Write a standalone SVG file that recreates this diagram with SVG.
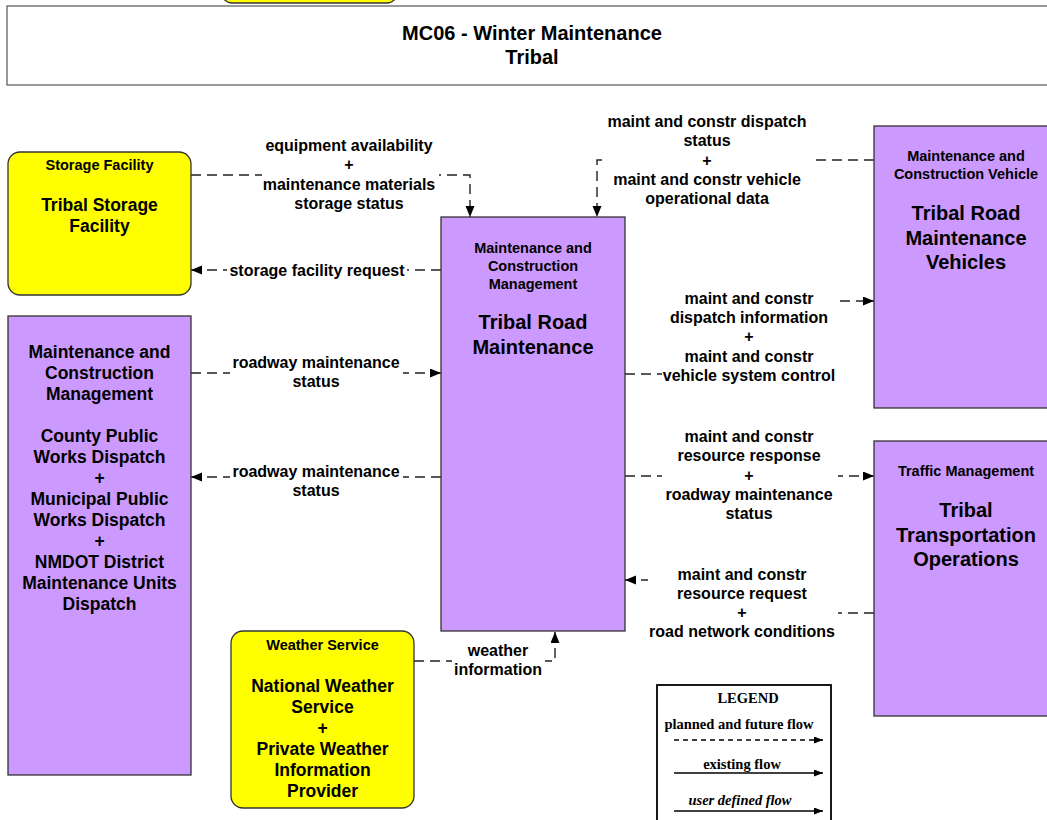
<svg xmlns="http://www.w3.org/2000/svg" width="1047" height="820" viewBox="0 0 1047 820">
<style>
text{font-family:"Liberation Sans",Arial,sans-serif;font-weight:bold;fill:#000;text-anchor:middle}
.hdr{font-size:14.5px}
.big{font-size:20px}
.mid{font-size:17.5px}
.lbl{font-size:16px}
.purple{fill:#CC99FF;stroke:#333;stroke-width:1.3}
.yellow{fill:#FFFF00;stroke:#333;stroke-width:1.3}
.flow{fill:none;stroke:#222;stroke-width:1.4;stroke-dasharray:10,6}
.mask{fill:#fff;stroke:none}
.leg{font-family:"Liberation Serif","Times New Roman",serif;font-size:14.5px}
</style>
<defs>
<marker id="arr" markerUnits="userSpaceOnUse" markerWidth="12" markerHeight="10" refX="11" refY="4.5" orient="auto">
<path d="M0,0 L11,4.5 L0,9 z" fill="#000"/>
</marker>
<marker id="arrs" markerUnits="userSpaceOnUse" markerWidth="10" markerHeight="8" refX="9" refY="3.5" orient="auto">
<path d="M0,0 L9,3.5 L0,7 z" fill="#000"/>
</marker>
</defs>
<rect width="1047" height="820" fill="#fff"/>

<g id="partial-top">
<rect class="yellow" x="222" y="-30" width="175" height="33" rx="10"/>
</g>

<g id="title">
<rect x="7" y="6" width="1050" height="79" fill="#fff" stroke="#555" stroke-width="1.2"/>
<text x="532" y="40" style="font-size:20px">MC06 - Winter Maintenance</text>
<text x="532" y="64" style="font-size:20px">Tribal</text>
</g>

<g id="connectors">
<path class="flow" d="M191,175 H470 V217" marker-end="url(#arr)"/>
<path class="flow" d="M441,270 H191" marker-end="url(#arr)"/>
<path class="flow" d="M874,160 H597 V217" marker-end="url(#arr)"/>
<path class="flow" d="M191,373 H441" marker-end="url(#arr)"/>
<path class="flow" d="M441,477 H191" marker-end="url(#arr)"/>
<path class="flow" d="M625,374 H750 V301 H874" marker-end="url(#arr)"/>
<path class="flow" d="M625,476 H874" marker-end="url(#arr)"/>
<path class="flow" d="M874,613 H742 V580 H625" marker-end="url(#arr)"/>
<path class="flow" d="M414,661 H555 V632" marker-end="url(#arr)"/>
</g>

<g id="labels">
<g id="lbl-equipment">
<rect class="mask" x="262" y="136" width="177" height="76"/>
<text class="lbl" x="349" y="151">equipment availability</text>
<text class="lbl" x="349" y="170">+</text>
<text class="lbl" x="349" y="190">maintenance materials</text>
<text class="lbl" x="349" y="209">storage status</text>
</g>
<g id="lbl-storage-request">
<rect class="mask" x="227" y="260" width="180" height="22"/>
<text class="lbl" x="317" y="276">storage facility request</text>
</g>
<g id="lbl-dispatch-status">
<rect class="mask" x="605" y="110" width="205" height="98"/>
<text class="lbl" x="707" y="127">maint and constr dispatch</text>
<text class="lbl" x="707" y="146">status</text>
<text class="lbl" x="707" y="166">+</text>
<text class="lbl" x="707" y="185">maint and constr vehicle</text>
<text class="lbl" x="707" y="204">operational data</text>
</g>
<g id="lbl-roadway-1">
<rect class="mask" x="230" y="352" width="173" height="40"/>
<text class="lbl" x="316" y="368">roadway maintenance</text>
<text class="lbl" x="316" y="387">status</text>
</g>
<g id="lbl-roadway-2">
<rect class="mask" x="230" y="461" width="173" height="40"/>
<text class="lbl" x="316" y="477">roadway maintenance</text>
<text class="lbl" x="316" y="496">status</text>
</g>
<g id="lbl-dispatch-info">
<rect class="mask" x="662" y="288" width="176" height="100"/>
<text class="lbl" x="749" y="304">maint and constr</text>
<text class="lbl" x="749" y="323">dispatch information</text>
<text class="lbl" x="749" y="342">+</text>
<text class="lbl" x="749" y="362">maint and constr</text>
<text class="lbl" x="749" y="381">vehicle system control</text>
</g>
<g id="lbl-resource-response">
<rect class="mask" x="662" y="426" width="176" height="98"/>
<text class="lbl" x="749" y="442">maint and constr</text>
<text class="lbl" x="749" y="461">resource response</text>
<text class="lbl" x="749" y="481">+</text>
<text class="lbl" x="749" y="500">roadway maintenance</text>
<text class="lbl" x="749" y="519">status</text>
</g>
<g id="lbl-resource-request">
<rect class="mask" x="648" y="564" width="190" height="78"/>
<text class="lbl" x="742" y="580">maint and constr</text>
<text class="lbl" x="742" y="599">resource request</text>
<text class="lbl" x="742" y="618">+</text>
<text class="lbl" x="742" y="637">road network conditions</text>
</g>
<g id="lbl-weather">
<rect class="mask" x="452" y="640" width="93" height="40"/>
<text class="lbl" x="498" y="656">weather</text>
<text class="lbl" x="498" y="675">information</text>
</g>
</g>

<g id="node-storage">
<rect class="yellow" x="8" y="152" width="183" height="143" rx="12"/>
<text class="hdr" x="99.5" y="170">Storage Facility</text>
<text class="mid" x="99.5" y="211">Tribal Storage</text>
<text class="mid" x="99.5" y="232">Facility</text>
</g>

<g id="node-left">
<rect class="purple" x="8" y="316" width="183" height="459"/>
<text class="mid" x="99.5" y="358">Maintenance and</text>
<text class="mid" x="99.5" y="379">Construction</text>
<text class="mid" x="99.5" y="400">Management</text>
<text class="mid" x="99.5" y="442">County Public</text>
<text class="mid" x="99.5" y="463">Works Dispatch</text>
<text class="mid" x="99.5" y="484">+</text>
<text class="mid" x="99.5" y="505">Municipal Public</text>
<text class="mid" x="99.5" y="526">Works Dispatch</text>
<text class="mid" x="99.5" y="547">+</text>
<text class="mid" x="99.5" y="568">NMDOT District</text>
<text class="mid" x="99.5" y="589">Maintenance Units</text>
<text class="mid" x="99.5" y="610">Dispatch</text>
</g>

<g id="node-center">
<rect class="purple" x="441" y="217" width="184" height="414"/>
<text class="hdr" x="533" y="253">Maintenance and</text>
<text class="hdr" x="533" y="271">Construction</text>
<text class="hdr" x="533" y="289">Management</text>
<text class="big" x="533" y="329">Tribal Road</text>
<text class="big" x="533" y="354">Maintenance</text>
</g>

<g id="node-vehicles">
<rect class="purple" x="874" y="126" width="183" height="282"/>
<text class="hdr" x="966" y="161">Maintenance and</text>
<text class="hdr" x="966" y="179">Construction Vehicle</text>
<text class="big" x="966" y="220">Tribal Road</text>
<text class="big" x="966" y="245">Maintenance</text>
<text class="big" x="966" y="269">Vehicles</text>
</g>

<g id="node-traffic">
<rect class="purple" x="874" y="441" width="183" height="275"/>
<text class="hdr" x="966" y="476">Traffic Management</text>
<text class="big" x="966" y="517">Tribal</text>
<text class="big" x="966" y="542">Transportation</text>
<text class="big" x="966" y="566">Operations</text>
</g>

<g id="node-weather">
<rect class="yellow" x="231" y="631" width="183" height="177" rx="12"/>
<text class="hdr" x="322.5" y="650">Weather Service</text>
<text class="mid" x="322.5" y="692">National Weather</text>
<text class="mid" x="322.5" y="713">Service</text>
<text class="mid" x="322.5" y="734">+</text>
<text class="mid" x="322.5" y="755">Private Weather</text>
<text class="mid" x="322.5" y="776">Information</text>
<text class="mid" x="322.5" y="797">Provider</text>
</g>

<g id="legend">
<rect x="657" y="685" width="174" height="145" fill="#fff" stroke="#000" stroke-width="1.8"/>
<text class="leg" x="748" y="703">LEGEND</text>
<text class="leg" x="739" y="729">planned and future flow</text>
<line x1="674" y1="740" x2="823" y2="740" stroke="#000" stroke-width="1.5" stroke-dasharray="5,4" marker-end="url(#arrs)"/>
<text class="leg" x="742" y="769">existing flow</text>
<line x1="674" y1="773" x2="823" y2="773" stroke="#000" stroke-width="1.5" marker-end="url(#arrs)"/>
<text class="leg" x="740" y="805" style="font-style:italic">user defined flow</text>
<line x1="674" y1="811" x2="823" y2="811" stroke="#000" stroke-width="1.5" marker-end="url(#arrs)"/>
</g>
</svg>
